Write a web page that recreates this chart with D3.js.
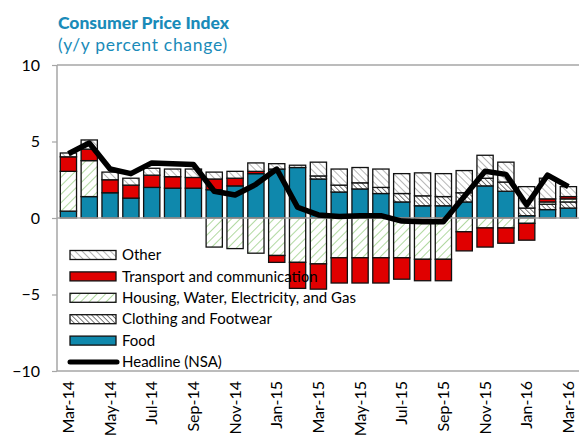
<!DOCTYPE html>
<html><head><meta charset="utf-8">
<script src="https://cdn.jsdelivr.net/npm/d3@7"></script>
<style>body{margin:0;background:#fff}svg{display:block;font-family:Lato,"Open Sans",sans-serif}</style>
</head><body><svg id="c" width="579" height="446"></svg>
<script>
const months = ["Mar-14","Apr-14","May-14","Jun-14","Jul-14","Aug-14","Sep-14","Oct-14","Nov-14","Dec-14","Jan-15","Feb-15","Mar-15","Apr-15","May-15","Jun-15","Jul-15","Aug-15","Sep-15","Oct-15","Nov-15","Dec-15","Jan-16","Feb-16","Mar-16"];
const tickMonths = ["Mar-14","May-14","Jul-14","Sep-14","Nov-14","Jan-15","Mar-15","May-15","Jul-15","Sep-15","Nov-15","Jan-16","Mar-16"];
const food      = [0.45,1.4,1.65,1.3,2.0,1.95,1.95,1.85,2.1,2.9,3.2,3.3,2.55,1.7,1.9,1.6,1.05,0.8,0.8,1.05,2.1,1.75,0.15,0.55,0.65];
const clothing  = [0,0,0,0,0,0,0,0,0,0,0,0,0.2,0.45,0.4,0.4,0.55,0.65,0.6,0.6,0.5,0.6,0.5,0.35,0.4];
const housing   = [2.6,2.35,0,0,0,0,0,-1.9,-2.0,-2.3,-2.45,-2.9,-3.0,-2.6,-2.6,-2.6,-2.6,-2.7,-2.7,-0.9,-0.65,-0.65,-0.35,0.15,0.2];
const transport = [0.95,0.75,0.85,0.85,0.8,0.75,0.7,0.7,0.5,0.15,-0.45,-1.7,-1.65,-1.65,-1.65,-1.65,-1.4,-1.4,-1.4,-1.25,-1.25,-1.0,-1.1,0.2,0.15];
const other     = [0.25,0.6,0.5,0.45,0.45,0.5,0.55,0.45,0.45,0.55,0.35,0.15,0.9,1.05,1.0,1.2,1.3,1.5,1.5,1.45,1.5,1.3,1.4,1.35,0.65];
const headline  = [4.2,4.9,3.2,2.9,3.6,3.55,3.5,1.75,1.5,2.2,3.2,0.7,0.2,0.1,0.15,0.15,-0.2,-0.25,-0.25,1.4,3.05,2.85,0.85,2.8,2.05];
const yTicks = [10,5,0,-5,-10];
const seriesKeys = ["food","clothing","housing","transport","other"];
const legendLabels = ["Other","Transport and communication","Housing, Water, Electricity, and Gas","Clothing and Footwear","Food","Headline (NSA)"];
const legendKeys = ["other","transport","housing","clothing","food","headline"];

const table = months.map((m,i)=>({month:m,food:food[i],clothing:clothing[i],housing:housing[i],transport:transport[i],other:other[i]}));

const svg = d3.select("#c");
const defs = svg.append("defs");
function hatch(id, color, spacing, width, dir){
  const p = defs.append("pattern").attr("id",id).attr("patternUnits","userSpaceOnUse")
    .attr("width",spacing).attr("height",spacing)
    .attr("patternTransform","rotate("+(dir>0?45:-45)+")");
  p.append("rect").attr("width",spacing).attr("height",spacing).attr("fill","#fff");
  p.append("line").attr("x1",0).attr("y1",0).attr("x2",0).attr("y2",spacing)
    .attr("stroke",color).attr("stroke-width",width);
}
hatch("pOther","#a8a8a8",5,1.7,-1);
hatch("pCloth","#505050",3.6,1.5,-1);
hatch("pHouse","#a8d596",6,1.8,1);
const fills = {food:"#0f88ac",clothing:"url(#pCloth)",housing:"url(#pHouse)",transport:"#e00000",other:"url(#pOther)"};

const x = d3.scaleBand().domain(months).range([58,578.8]).paddingInner(0.22).paddingOuter(0.11);
const y = d3.scaleLinear().domain([-10,10]).range([371,65]);

// frame
const axisColor = "#a6a6a6";
svg.append("line").attr("x1",57).attr("x2",579).attr("y1",y(10)).attr("y2",y(10)).attr("stroke",axisColor).attr("stroke-width",1.5);
svg.append("line").attr("x1",57).attr("x2",579).attr("y1",y(-10)).attr("y2",y(-10)).attr("stroke",axisColor).attr("stroke-width",1.5);
svg.append("line").attr("x1",57).attr("x2",57).attr("y1",y(10)).attr("y2",y(-10)).attr("stroke",axisColor).attr("stroke-width",1.5);

// y axis ticks & labels
const yAxis = d3.axisLeft(y).tickValues(yTicks).tickSize(5).tickPadding(12).tickFormat(d3.format("d"));
const ga = svg.append("g").attr("transform","translate(57,0)").call(yAxis);
ga.select(".domain").remove();
ga.selectAll(".tick line").attr("stroke",axisColor).attr("stroke-width",1.2);
ga.selectAll(".tick text").attr("font-size",16).attr("fill","#000").attr("font-family","Lato, sans-serif");

// bars
const stack = d3.stack().keys(seriesKeys).offset(d3.stackOffsetDiverging);
const stacked = stack(table);
const gb = svg.append("g");
stacked.forEach(s=>{
  gb.selectAll(null).data(s.filter(d=>Math.abs(d[1]-d[0])>1e-9)).join("rect")
    .attr("x",d=>x(d.data.month)).attr("width",x.bandwidth())
    .attr("y",d=>y(Math.max(d[0],d[1]))).attr("height",d=>Math.abs(y(d[0])-y(d[1])))
    .attr("fill",fills[s.key]).attr("stroke","#111").attr("stroke-width",1.3);
});

// zero line
svg.append("line").attr("x1",57).attr("x2",579).attr("y1",y(0)).attr("y2",y(0)).attr("stroke",axisColor).attr("stroke-width",1.5);

// headline
const line = d3.line().x((d,i)=>x(months[i])+x.bandwidth()/2).y(d=>y(d));
svg.append("path").datum(headline).attr("d",line).attr("fill","none").attr("stroke","#000")
  .attr("stroke-width",5.5).attr("stroke-linejoin","round").attr("stroke-linecap","butt");

// x labels
const xAxis = d3.axisBottom(x).tickValues(tickMonths).tickSize(0);
const gx = svg.append("g").attr("transform","translate(0,"+y(-10)+")").call(xAxis);
gx.select(".domain").remove();
gx.selectAll(".tick text").attr("font-size",16).attr("fill","#000").attr("font-family","Lato, sans-serif")
  .attr("transform","rotate(-90)").attr("text-anchor","end").attr("dy","0.35em").attr("x",-10).attr("y",0);

// legend
const lg = svg.append("g");
const legY = d3.scalePoint().domain(legendKeys).range([255,362]);
legendKeys.forEach((k,i)=>{
  const cy = legY(k);
  if(k==="headline"){
    lg.append("line").attr("x1",70).attr("x2",117).attr("y1",cy).attr("y2",cy).attr("stroke","#000").attr("stroke-width",5).attr("stroke-linecap","round");
  } else {
    lg.append("rect").attr("x",70).attr("y",cy-4.5).attr("width",46).attr("height",9)
      .attr("fill",fills[k]).attr("stroke","#111").attr("stroke-width",1.3);
  }
  lg.append("text").attr("x",122).attr("y",cy).attr("dy","0.35em").attr("font-size",15).attr("fill","#000").text(legendLabels[i]);
});

// titles
svg.append("text").attr("x",58).attr("y",29).attr("font-size",17.5).attr("font-weight","900").attr("fill","#1a8bb9").text("Consumer Price Index");
svg.append("text").attr("x",58).attr("y",51).attr("font-size",17.5).attr("letter-spacing",0.7).attr("fill","#1a8bb9").text("(y/y percent change)");
</script></body></html>
